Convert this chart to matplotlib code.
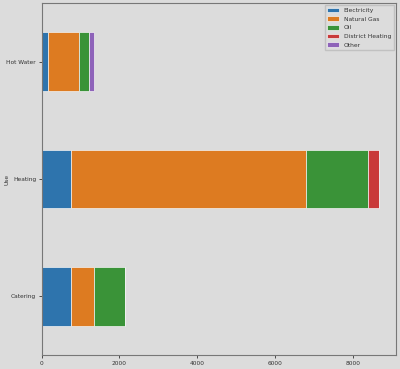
import matplotlib
matplotlib.use("Agg")
import matplotlib.pyplot as plt
import numpy as np

uses = ["Catering", "Heating", "Hot Water"]
series_names = ["Electricity", "Natural Gas", "Oil", "District Heating", "Other"]
electricity = [748, 756, 160]
natural_gas = [590, 6026, 810]
oil = [803, 1598, 256]
district_heating = [0, 282, 0]
other = [0, 0, 120]
colors = ["#2e74ad", "#dd7b21", "#3a9338", "#c93a3a", "#8e63b9"]

values = [electricity, natural_gas, oil, district_heating, other]

bg = "#dcdcdc"
fig = plt.figure(figsize=(4.0, 3.69), dpi=100, facecolor=bg)
ax = fig.add_axes([0.104, 0.038, 0.886, 0.954], facecolor=bg)

y = np.arange(len(uses))
left = np.zeros(len(uses))
for name, vals, c in zip(series_names, values, colors):
    vals = np.array(vals, dtype=float)
    ax.barh(y, vals, height=0.5, left=left, color=c, label=name,
            edgecolor="#f2f2f2", linewidth=0.5)
    left += vals

ax.set_yticks(y)
ax.set_yticklabels(uses)
ax.set_ylim(-0.5, 2.5)
ax.set_xlim(0, 9100)
ax.set_xticks([0, 2000, 4000, 6000, 8000])
ax.set_ylabel("Use", fontsize=4.2, color="#333333")
ax.yaxis.set_label_coords(-0.09, 0.5)
ax.tick_params(labelsize=4.2, colors="#333333", length=2, width=0.6, pad=2)
for sp in ax.spines.values():
    sp.set_color("#777777")
    sp.set_linewidth(0.8)

leg = ax.legend(loc="upper right", fontsize=4.3, frameon=True, facecolor=bg,
                edgecolor="#bbbbbb", handlelength=2.0, handleheight=0.8,
                borderaxespad=0.4, labelspacing=0.55, fancybox=False)
for t in leg.get_texts():
    t.set_color("#333333")

fig.savefig("out.png", dpi=100, facecolor=bg)
